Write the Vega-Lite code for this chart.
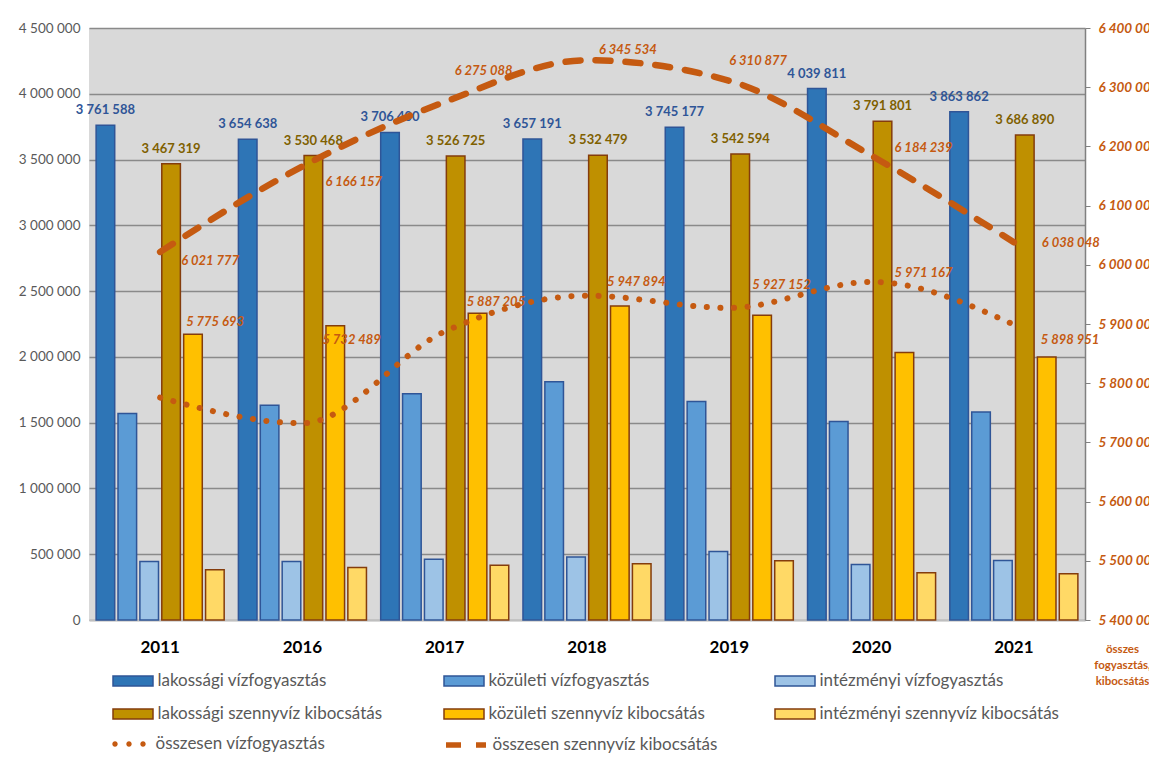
{
  "$schema": "https://vega.github.io/schema/vega-lite/v6.json",
  "width": 996,
  "height": 592,
  "autosize": {"type": "none"},
  "padding": {"left": 89, "top": 28, "right": 64, "bottom": 142},
  "background": "white",
  "config": {
    "font": "Lato",
    "locale": {"number": {"decimal": ",", "thousands": " ", "grouping": [3], "currency": ["", ""]}},
    "view": {"fill": "#D9D9D9", "stroke": null},
    "text": {"font": "Lato", "fontSize": 13, "fontWeight": "bold", "fontStyle": "italic", "color": "#C55A11", "align": "left", "baseline": "middle"}
  },
  "datasets": {
    "bars": [
      {"year": "2011", "series": "lakossági vízfogyasztás", "value": 3761588},
      {"year": "2011", "series": "közületi vízfogyasztás", "value": 1569500},
      {"year": "2011", "series": "intézményi vízfogyasztás", "value": 444605},
      {"year": "2011", "series": "lakossági szennyvíz kibocsátás", "value": 3467319},
      {"year": "2011", "series": "közületi szennyvíz kibocsátás", "value": 2172000},
      {"year": "2011", "series": "intézményi szennyvíz kibocsátás", "value": 382458},
      {"year": "2016", "series": "lakossági vízfogyasztás", "value": 3654638},
      {"year": "2016", "series": "közületi vízfogyasztás", "value": 1633000},
      {"year": "2016", "series": "intézményi vízfogyasztás", "value": 444851},
      {"year": "2016", "series": "lakossági szennyvíz kibocsátás", "value": 3530468},
      {"year": "2016", "series": "közületi szennyvíz kibocsátás", "value": 2236000},
      {"year": "2016", "series": "intézményi szennyvíz kibocsátás", "value": 399689},
      {"year": "2017", "series": "lakossági vízfogyasztás", "value": 3706400},
      {"year": "2017", "series": "közületi vízfogyasztás", "value": 1719000},
      {"year": "2017", "series": "intézményi vízfogyasztás", "value": 461805},
      {"year": "2017", "series": "lakossági szennyvíz kibocsátás", "value": 3526725},
      {"year": "2017", "series": "közületi szennyvíz kibocsátás", "value": 2332000},
      {"year": "2017", "series": "intézményi szennyvíz kibocsátás", "value": 416363},
      {"year": "2018", "series": "lakossági vízfogyasztás", "value": 3657191},
      {"year": "2018", "series": "közületi vízfogyasztás", "value": 1811000},
      {"year": "2018", "series": "intézményi vízfogyasztás", "value": 479703},
      {"year": "2018", "series": "lakossági szennyvíz kibocsátás", "value": 3532479},
      {"year": "2018", "series": "közületi szennyvíz kibocsátás", "value": 2386000},
      {"year": "2018", "series": "intézményi szennyvíz kibocsátás", "value": 427055},
      {"year": "2019", "series": "lakossági vízfogyasztás", "value": 3745177},
      {"year": "2019", "series": "közületi vízfogyasztás", "value": 1661500},
      {"year": "2019", "series": "intézményi vízfogyasztás", "value": 520475},
      {"year": "2019", "series": "lakossági szennyvíz kibocsátás", "value": 3542594},
      {"year": "2019", "series": "közületi szennyvíz kibocsátás", "value": 2317300},
      {"year": "2019", "series": "intézményi szennyvíz kibocsátás", "value": 450983},
      {"year": "2020", "series": "lakossági vízfogyasztás", "value": 4039811},
      {"year": "2020", "series": "közületi vízfogyasztás", "value": 1509000},
      {"year": "2020", "series": "intézményi vízfogyasztás", "value": 422356},
      {"year": "2020", "series": "lakossági szennyvíz kibocsátás", "value": 3791801},
      {"year": "2020", "series": "közületi szennyvíz kibocsátás", "value": 2034000},
      {"year": "2020", "series": "intézményi szennyvíz kibocsátás", "value": 358438},
      {"year": "2021", "series": "lakossági vízfogyasztás", "value": 3863862},
      {"year": "2021", "series": "közületi vízfogyasztás", "value": 1582000},
      {"year": "2021", "series": "intézményi vízfogyasztás", "value": 453089},
      {"year": "2021", "series": "lakossági szennyvíz kibocsátás", "value": 3686890},
      {"year": "2021", "series": "közületi szennyvíz kibocsátás", "value": 2000000},
      {"year": "2021", "series": "intézményi szennyvíz kibocsátás", "value": 351158}
    ],
    "lines": [
      {"year": "2011", "series": "összesen vízfogyasztás", "value": 5775693},
      {"year": "2016", "series": "összesen vízfogyasztás", "value": 5732489},
      {"year": "2017", "series": "összesen vízfogyasztás", "value": 5887205},
      {"year": "2018", "series": "összesen vízfogyasztás", "value": 5947894},
      {"year": "2019", "series": "összesen vízfogyasztás", "value": 5927152},
      {"year": "2020", "series": "összesen vízfogyasztás", "value": 5971167},
      {"year": "2021", "series": "összesen vízfogyasztás", "value": 5898951},
      {"year": "2011", "series": "összesen szennyvíz kibocsátás", "value": 6021777},
      {"year": "2016", "series": "összesen szennyvíz kibocsátás", "value": 6166157},
      {"year": "2017", "series": "összesen szennyvíz kibocsátás", "value": 6275088},
      {"year": "2018", "series": "összesen szennyvíz kibocsátás", "value": 6345534},
      {"year": "2019", "series": "összesen szennyvíz kibocsátás", "value": 6310877},
      {"year": "2020", "series": "összesen szennyvíz kibocsátás", "value": 6184239},
      {"year": "2021", "series": "összesen szennyvíz kibocsátás", "value": 6038048}
    ]
  },
  "layer": [
    {
      "data": {"name": "bars"},
      "encoding": {
        "x": {
          "field": "year", "type": "nominal",
          "scale": {"paddingInner": 0.1, "paddingOuter": 0.05},
          "axis": {"title": null, "labelAngle": 0, "labelFont": "Lato", "labelFontSize": 17, "labelFontWeight": "bold", "labelColor": "#000000", "labelPadding": 19, "ticks": false, "tickSize": 0, "domainColor": "#BFBFBF", "domainWidth": 1.5}
        },
        "xOffset": {
          "field": "series",
          "scale": {"domain": ["lakossági vízfogyasztás", "közületi vízfogyasztás", "intézményi vízfogyasztás", "lakossági szennyvíz kibocsátás", "közületi szennyvíz kibocsátás", "intézményi szennyvíz kibocsátás"], "paddingInner": 0.15, "paddingOuter": 0}
        },
        "y": {
          "field": "value", "type": "quantitative",
          "scale": {"domain": [0, 4500000], "nice": false},
          "axis": {"title": null, "format": ",d", "values": [0, 500000, 1000000, 1500000, 2000000, 2500000, 3000000, 3500000, 4000000, 4500000], "labelFont": "Lato", "labelFontSize": 13.5, "labelColor": "#595959", "labelPadding": 9, "ticks": false, "tickSize": 0, "domain": false, "grid": true, "gridColor": "#8A8A8A", "gridWidth": 1.5}
        }
      },
      "layer": [
        {
          "mark": {"type": "bar", "strokeWidth": 1.5},
          "encoding": {
            "fill": {
              "field": "series",
              "scale": {
                "domain": ["lakossági vízfogyasztás", "közületi vízfogyasztás", "intézményi vízfogyasztás", "lakossági szennyvíz kibocsátás", "közületi szennyvíz kibocsátás", "intézményi szennyvíz kibocsátás"],
                "range": ["#2E75B6", "#5B9BD5", "#9DC3E6", "#BF9000", "#FFC000", "#FFD966"]
              },
              "legend": {
                "title": null, "orient": "none", "legendX": 33, "legendY": 642, "direction": "horizontal", "columns": 3, "gridAlign": "all",
                "padding": 0, "symbolSize": 400, "symbolType": "M-2,-0.5H2V0.5H-2Z", "symbolStrokeWidth": 1.5,
                "labelFont": "Lato", "labelFontSize": 17, "labelColor": "#595959", "labelOffset": 13.5, "labelLimit": 400,
                "columnPadding": 44, "rowPadding": 14
              }
            },
            "stroke": {
              "field": "series",
              "scale": {
                "domain": ["lakossági vízfogyasztás", "közületi vízfogyasztás", "intézményi vízfogyasztás", "lakossági szennyvíz kibocsátás", "közületi szennyvíz kibocsátás", "intézményi szennyvíz kibocsátás"],
                "range": ["#2F5597", "#2F5597", "#2F5597", "#843C0C", "#843C0C", "#843C0C"]
              },
              "legend": {
                "title": null, "orient": "none", "legendX": 33, "legendY": 642, "direction": "horizontal", "columns": 3, "gridAlign": "all",
                "padding": 0, "symbolSize": 400, "symbolType": "M-2,-0.5H2V0.5H-2Z", "symbolStrokeWidth": 1.5,
                "labelFont": "Lato", "labelFontSize": 17, "labelColor": "#595959", "labelOffset": 13.5, "labelLimit": 400,
                "columnPadding": 44, "rowPadding": 14
              }
            }
          }
        },
        {
          "transform": [{"filter": "datum.series == 'lakossági vízfogyasztás'"}],
          "mark": {"type": "text", "align": "center", "baseline": "middle", "dy": -15, "fontStyle": "normal", "color": "#2F5597"},
          "encoding": {"text": {"field": "value", "type": "quantitative", "format": ",d"}}
        },
        {
          "transform": [{"filter": "datum.series == 'lakossági szennyvíz kibocsátás'"}],
          "mark": {"type": "text", "align": "center", "baseline": "middle", "dy": -15, "fontStyle": "normal", "color": "#7F6000"},
          "encoding": {"text": {"field": "value", "type": "quantitative", "format": ",d"}}
        }
      ]
    },
    {
      "data": {"name": "lines"},
      "encoding": {
        "x": {"field": "year", "type": "nominal", "bandPosition": 0.5},
        "y": {
          "field": "value", "type": "quantitative",
          "scale": {"domain": [5400000, 6400000], "nice": false, "zero": false},
          "axis": {
            "orient": "right", "format": ",d", "values": [5400000, 5500000, 5600000, 5700000, 5800000, 5900000, 6000000, 6100000, 6200000, 6300000, 6400000],
            "labelFont": "Lato", "labelFontSize": 13.5, "labelFontWeight": "bold", "labelFontStyle": "italic", "labelColor": "#C55A11", "labelPadding": 8,
            "ticks": true, "tickSize": 5, "tickColor": "#808080", "domain": true, "domainColor": "#808080", "domainWidth": 1.5, "grid": false,
            "title": ["összes", "fogyasztás,", "kibocsátás"], "titleAngle": 0, "titleAlign": "center", "titleBaseline": "top", "titleX": 37, "titleY": 615,
            "titleFont": "Lato", "titleFontSize": 11.5, "titleFontWeight": "bold", "titleColor": "#C55A11", "titleLineHeight": 16
          }
        }
      },
      "layer": [
        {
          "transform": [{"filter": "datum.series == 'összesen vízfogyasztás'"}],
          "mark": {"type": "line", "stroke": "#C55A11", "strokeWidth": 6, "strokeDash": [0.1, 13.5], "strokeCap": "round", "interpolate": "monotone"}
        },
        {
          "transform": [{"filter": "datum.series == 'összesen vízfogyasztás'"}],
          "mark": {"type": "point", "filled": true, "opacity": 0},
          "encoding": {
            "color": {
              "field": "series",
              "scale": {"domain": ["összesen vízfogyasztás"], "range": ["#C55A11"]},
              "legend": {
                "title": null, "orient": "none", "legendX": 33, "legendY": 706, "direction": "horizontal",
                "padding": 0, "symbolSize": 400, "symbolOpacity": 1, "symbolStrokeWidth": 0,
                "symbolType": "M-1.97,0a0.27,0.27 0 1,0 0.54,0a0.27,0.27 0 1,0 -0.54,0ZM-0.57,0a0.27,0.27 0 1,0 0.54,0a0.27,0.27 0 1,0 -0.54,0ZM0.83,0a0.27,0.27 0 1,0 0.54,0a0.27,0.27 0 1,0 -0.54,0Z",
                "labelFont": "Lato", "labelFontSize": 17, "labelColor": "#595959", "labelOffset": 13.5, "labelLimit": 400
              }
            }
          }
        },
        {
          "transform": [{"filter": "datum.series == 'összesen szennyvíz kibocsátás'"}],
          "mark": {"type": "line", "stroke": "#C55A11", "strokeWidth": 6.5, "strokeCap": "round", "interpolate": "monotone"},
          "encoding": {
            "strokeDash": {
              "field": "series",
              "scale": {"domain": ["összesen szennyvíz kibocsátás"], "range": [[15, 15]]},
              "legend": {
                "title": null, "orient": "none", "legendX": 364, "legendY": 704, "direction": "horizontal",
                "padding": 0, "symbolSize": 400, "symbolType": "M-2,0H2", "symbolStrokeWidth": 5.5, "symbolStrokeColor": "#C55A11", "symbolDash": [14, 12],
                "labelFont": "Lato", "labelFontSize": 17, "labelColor": "#595959", "labelOffset": 13.5, "labelLimit": 400
              }
            }
          }
        },
        {"transform": [{"filter": "datum.series == 'összesen szennyvíz kibocsátás' && datum.year == '2011'"}], "mark": {"type": "text", "dx": 21, "dy": 9}, "encoding": {"text": {"field": "value", "type": "quantitative", "format": ",d"}}},
        {"transform": [{"filter": "datum.series == 'összesen szennyvíz kibocsátás' && datum.year == '2016'"}], "mark": {"type": "text", "dx": 23, "dy": 16}, "encoding": {"text": {"field": "value", "type": "quantitative", "format": ",d"}}},
        {"transform": [{"filter": "datum.series == 'összesen szennyvíz kibocsátás' && datum.year == '2017'"}], "mark": {"type": "text", "dx": 10, "dy": -31}, "encoding": {"text": {"field": "value", "type": "quantitative", "format": ",d"}}},
        {"transform": [{"filter": "datum.series == 'összesen szennyvíz kibocsátás' && datum.year == '2018'"}], "mark": {"type": "text", "dx": 12, "dy": -10}, "encoding": {"text": {"field": "value", "type": "quantitative", "format": ",d"}}},
        {"transform": [{"filter": "datum.series == 'összesen szennyvíz kibocsátás' && datum.year == '2019'"}], "mark": {"type": "text", "dx": 0, "dy": -20}, "encoding": {"text": {"field": "value", "type": "quantitative", "format": ",d"}}},
        {"transform": [{"filter": "datum.series == 'összesen szennyvíz kibocsátás' && datum.year == '2020'"}], "mark": {"type": "text", "dx": 23, "dy": -8}, "encoding": {"text": {"field": "value", "type": "quantitative", "format": ",d"}}},
        {"transform": [{"filter": "datum.series == 'összesen szennyvíz kibocsátás' && datum.year == '2021'"}], "mark": {"type": "text", "dx": 28, "dy": 1}, "encoding": {"text": {"field": "value", "type": "quantitative", "format": ",d"}}},
        {"transform": [{"filter": "datum.series == 'összesen vízfogyasztás' && datum.year == '2011'"}], "mark": {"type": "text", "dx": 26, "dy": -76}, "encoding": {"text": {"field": "value", "type": "quantitative", "format": ",d"}}},
        {"transform": [{"filter": "datum.series == 'összesen vízfogyasztás' && datum.year == '2016'"}], "mark": {"type": "text", "dx": 20, "dy": -83}, "encoding": {"text": {"field": "value", "type": "quantitative", "format": ",d"}}},
        {"transform": [{"filter": "datum.series == 'összesen vízfogyasztás' && datum.year == '2017'"}], "mark": {"type": "text", "dx": 22, "dy": -30}, "encoding": {"text": {"field": "value", "type": "quantitative", "format": ",d"}}},
        {"transform": [{"filter": "datum.series == 'összesen vízfogyasztás' && datum.year == '2018'"}], "mark": {"type": "text", "dx": 20, "dy": -14}, "encoding": {"text": {"field": "value", "type": "quantitative", "format": ",d"}}},
        {"transform": [{"filter": "datum.series == 'összesen vízfogyasztás' && datum.year == '2019'"}], "mark": {"type": "text", "dx": 23, "dy": -23}, "encoding": {"text": {"field": "value", "type": "quantitative", "format": ",d"}}},
        {"transform": [{"filter": "datum.series == 'összesen vízfogyasztás' && datum.year == '2020'"}], "mark": {"type": "text", "dx": 23, "dy": -9}, "encoding": {"text": {"field": "value", "type": "quantitative", "format": ",d"}}},
        {"transform": [{"filter": "datum.series == 'összesen vízfogyasztás' && datum.year == '2021'"}], "mark": {"type": "text", "dx": 27, "dy": 15}, "encoding": {"text": {"field": "value", "type": "quantitative", "format": ",d"}}}
      ]
    }
  ],
  "resolve": {"scale": {"y": "independent"}}
}
